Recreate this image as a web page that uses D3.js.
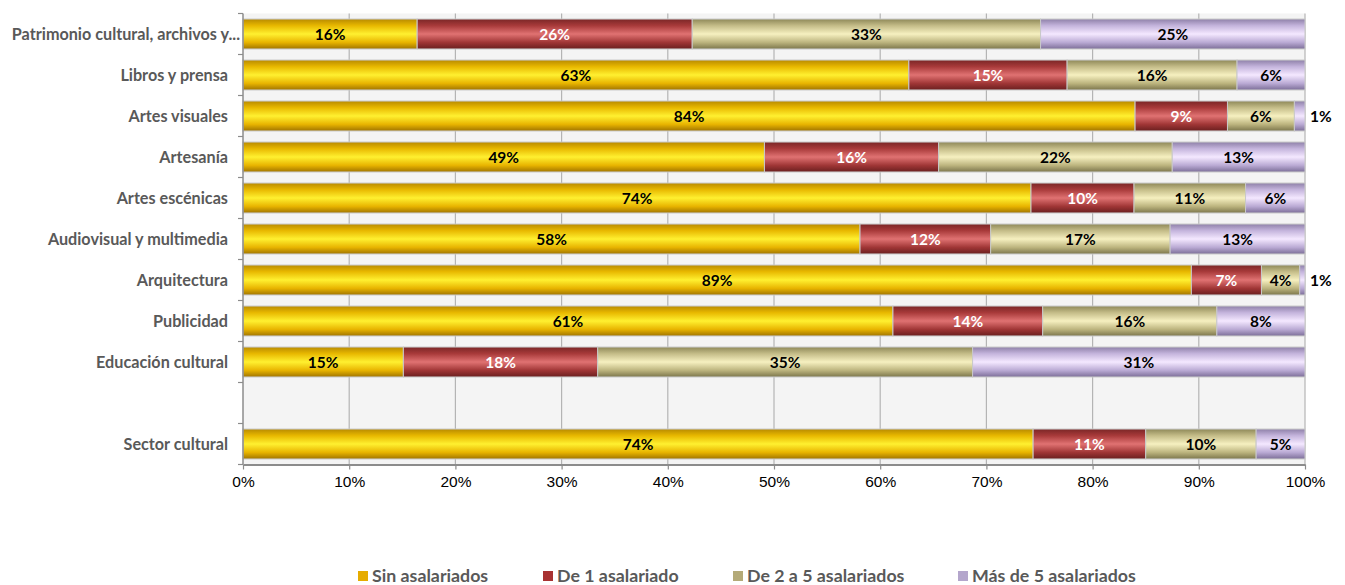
<!DOCTYPE html>
<html>
<head>
<meta charset="utf-8">
<script src="https://cdn.jsdelivr.net/npm/d3@7"></script>
<style>
  body { margin: 0; background: #fff; }
  svg { display: block; }
</style>
</head>
<body>
<svg id="chart" width="1345" height="585"></svg>
<script>
// ---- DATA ----
const categories = [
  "Patrimonio cultural, archivos y...",
  "Libros y prensa",
  "Artes visuales",
  "Artesanía",
  "Artes escénicas",
  "Audiovisual y multimedia",
  "Arquitectura",
  "Publicidad",
  "Educación cultural",
  "",
  "Sector cultural"
];
const seriesNames = ["Sin asalariados", "De 1 asalariado", "De 2 a 5 asalariados", "Más de 5 asalariados"];
const sinAsalariados   = [16.4, 62.7, 84.0, 49.1, 74.2, 58.1, 89.3, 61.2, 15.1, null, 74.4];
const deUnAsalariado   = [25.9, 14.9,  8.7, 16.4,  9.7, 12.3,  6.6, 14.1, 18.3, null, 10.6];
const deDosACinco      = [32.8, 16.0,  6.3, 22.0, 10.5, 16.9,  3.6, 16.4, 35.3, null, 10.4];
const masDeCinco       = [24.9,  6.4,  1.0, 12.5,  5.6, 12.7,  0.5,  8.3, 31.3, null,  4.6];
const xTicks = [0, 10, 20, 30, 40, 50, 60, 70, 80, 90, 100];

const seriesValues = [sinAsalariados, deUnAsalariado, deDosACinco, masDeCinco];

// ---- STYLE ----
const grads = [
  { id: "g0", stops: ["#b88a00", "#e8b800", "#fff030", "#e8b400", "#a07400"], text: "#000" },
  { id: "g1", stops: ["#7a2626", "#a83a3a", "#e07272", "#a03636", "#6a1f1f"], text: "#fff" },
  { id: "g2", stops: ["#8e8858", "#c4bc88", "#f6f0c0", "#bcb47e", "#7c764c"], text: "#000" },
  { id: "g3", stops: ["#8e80a8", "#c4b4dc", "#f4e8ff", "#baaad4", "#7c6e98"], text: "#000" }
];
const legendColors = ["#e6ac00", "#a83232", "#b4aa78", "#b4a6cc"];
const FONT = "Lato, 'Open Sans', sans-serif";

const svg = d3.select("#chart");
const defs = svg.append("defs");
grads.forEach(g => {
  const lg = defs.append("linearGradient").attr("id", g.id)
    .attr("x1", 0).attr("y1", 0).attr("x2", 0).attr("y2", 1);
  const offs = [0, 0.22, 0.5, 0.78, 1];
  g.stops.forEach((c, i) => lg.append("stop").attr("offset", offs[i]).attr("stop-color", c));
});

const plotTop = 13.5, plotBottom = 464.5;
const x = d3.scaleLinear().domain([0, 100]).range([243, 1305]);
const y = d3.scaleBand().domain(categories.map((c, i) => i)).range([plotTop, plotBottom]).paddingInner(0.27).paddingOuter(0.135);

// plot background
svg.append("rect").attr("x", x(0)).attr("y", plotTop).attr("width", x(100) - x(0)).attr("height", plotBottom - plotTop)
  .attr("fill", "#f4f4f4");

// vertical gridlines
svg.append("g").selectAll("line").data(xTicks.slice(1)).join("line")
  .attr("x1", d => x(d)).attr("x2", d => x(d))
  .attr("y1", plotTop).attr("y2", plotBottom)
  .attr("stroke", "#b4b4b4").attr("stroke-width", 1.2);

// stacked bars
const rows = categories.map((c, i) => {
  let acc = 0;
  return seriesValues.map((s, k) => {
    const v = s[i];
    if (v == null) return null;
    const seg = { i, k, v, x0: acc, x1: acc + v };
    acc += v;
    return seg;
  }).filter(Boolean);
}).flat();

const bars = svg.append("g");
bars.selectAll("rect").data(rows).join("rect")
  .attr("x", d => x(d.x0)).attr("width", d => x(d.x1) - x(d.x0))
  .attr("y", d => y(d.i)).attr("height", y.bandwidth())
  .attr("fill", d => `url(#${grads[d.k].id})`)
  .attr("stroke", "#c8c8c8").attr("stroke-width", 1);

// data labels
const small = d => (x(d.x1) - x(d.x0)) < 14;
const lbl = svg.append("g").attr("font-family", FONT).attr("font-weight", 700).attr("font-size", 15.5);
lbl.selectAll("text").data(rows).join("text")
  .attr("x", d => small(d) ? x(100) + 5 : (x(d.x0) + x(d.x1)) / 2)
  .attr("text-anchor", d => small(d) ? "start" : "middle")
  .attr("y", d => y(d.i) + y.bandwidth() / 2)
  .attr("dy", "0.36em")
  .attr("fill", d => small(d) ? "#000" : grads[d.k].text)
  .text(d => Math.round(d.v) + "%");

// left axis
const yAxisG = svg.append("g");
yAxisG.append("line").attr("x1", x(0)).attr("x2", x(0)).attr("y1", plotTop).attr("y2", plotBottom)
  .attr("stroke", "#8c8c8c").attr("stroke-width", 1.5);
const bounds = d3.range(categories.length + 1).map(j => plotTop + j * (plotBottom - plotTop) / categories.length);
yAxisG.selectAll("line.t").data(bounds).join("line").attr("class", "t")
  .attr("x1", x(0) - 5).attr("x2", x(0)).attr("y1", d => d).attr("y2", d => d)
  .attr("stroke", "#8c8c8c").attr("stroke-width", 1.2);
yAxisG.selectAll("text").data(categories).join("text")
  .attr("x", (d, i) => i === 0 ? 240 : 228).attr("y", (d, i) => y(i) + y.bandwidth() / 2).attr("dy", "0.36em")
  .attr("text-anchor", "end")
  .attr("font-family", FONT).attr("font-weight", 700).attr("font-size", 16.2)
  .attr("fill", "#595959")
  .text(d => d);

// bottom axis
const xAxis = d3.axisBottom(x).tickValues(xTicks).tickFormat(d => d + "%").tickSize(5).tickSizeOuter(0);
const xg = svg.append("g").attr("transform", `translate(0,${plotBottom})`).call(xAxis);
xg.select(".domain").attr("stroke", "#8c8c8c").attr("stroke-width", 2);
xg.selectAll(".tick line").attr("stroke", "#8c8c8c").attr("stroke-width", 1.2);
xg.selectAll(".tick text").attr("font-family", "'Liberation Sans', Arial, sans-serif").attr("font-size", 15.5)
  .attr("fill", "#000").attr("dy", "0.95em");

// legend
const legendX = [358, 543, 733, 958];
const lg = svg.append("g").attr("font-family", FONT).attr("font-weight", 700).attr("font-size", 17.8).attr("fill", "#595959");
const li = lg.selectAll("g").data(seriesNames).join("g").attr("transform", (d, i) => `translate(${legendX[i]},571)`);
li.append("rect").attr("width", 10).attr("height", 10).attr("fill", (d, i) => legendColors[i]);
li.append("text").attr("x", 14).attr("y", 5).attr("dy", "0.36em").text(d => d);
</script>
</body>
</html>
